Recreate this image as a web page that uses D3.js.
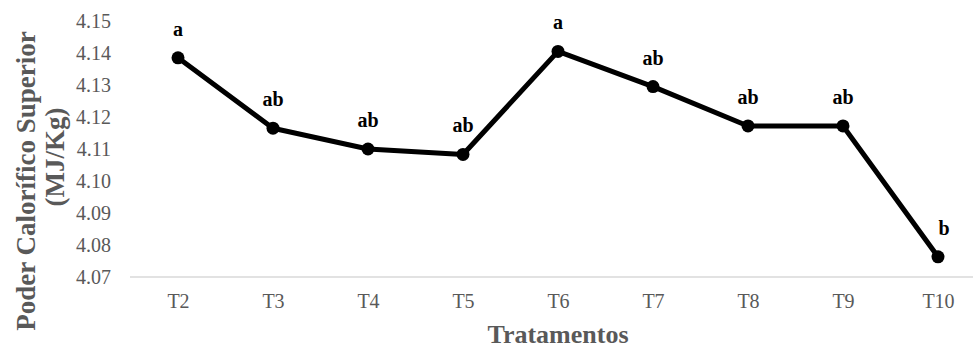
<!DOCTYPE html>
<html>
<head>
<meta charset="utf-8">
<script src="https://cdn.jsdelivr.net/npm/d3@7"></script>
<style>
  html, body { margin: 0; padding: 0; background: #fff; }
  svg { display: block; }
  svg text { font-family: "Liberation Serif", "Times New Roman", serif; }
</style>
</head>
<body>
<svg id="chart" width="973" height="349"></svg>
<script>
// Tratamentos and their mean higher heating value (MJ/Kg)
const categories = ["T2", "T3", "T4", "T5", "T6", "T7", "T8", "T9", "T10"];
const values = [4.1385, 4.1165, 4.1100, 4.1083, 4.1405, 4.1295, 4.1172, 4.1172, 4.0763];
// Letters from the mean comparison test
const letters = ["a", "ab", "ab", "ab", "a", "ab", "ab", "ab", "b"];
const yTicks = [4.07, 4.08, 4.09, 4.10, 4.11, 4.12, 4.13, 4.14, 4.15];

const svg = d3.select("#chart");
const font = "Liberation Serif, Times New Roman, serif";
const grey = "#595959";

const x = d3.scalePoint().domain(categories).range([130.5, 985.5]).padding(0.5);
const y = d3.scaleLinear().domain([4.07, 4.15]).range([277, 21]);

// Y axis labels (no line, no ticks)
const yAxis = svg.append("g")
  .attr("transform", "translate(130,0)")
  .call(d3.axisLeft(y).tickValues(yTicks).tickFormat(d3.format(".2f")).tickSize(0).tickPadding(19));
yAxis.attr("font-family", null);
yAxis.select(".domain").remove();
yAxis.selectAll("text").style("font-family", font).attr("font-size", 20).attr("fill", grey);

// X axis: light baseline with category labels
const xAxis = svg.append("g")
  .attr("transform", `translate(0,${y(4.07)})`)
  .call(d3.axisBottom(x).tickSize(0).tickPadding(17));
xAxis.attr("font-family", null);
xAxis.select(".domain").remove();
xAxis.append("line")
  .attr("x1", 130).attr("x2", 985)
  .attr("stroke", "#d9d9d9").attr("stroke-width", 1.5);
xAxis.selectAll("text").style("font-family", font).attr("font-size", 20).attr("fill", grey);

// Series line and markers
const line = d3.line().x((d, i) => x(categories[i])).y(d => y(d));
svg.append("path")
  .datum(values)
  .attr("d", line)
  .attr("fill", "none")
  .attr("stroke", "#000")
  .attr("stroke-width", 5)
  .attr("stroke-linejoin", "round");

svg.selectAll("circle.pt")
  .data(values)
  .join("circle")
  .attr("class", "pt")
  .attr("cx", (d, i) => x(categories[i]))
  .attr("cy", d => y(d))
  .attr("r", 6.5)
  .attr("fill", "#000");

// Significance letters above each point
svg.selectAll("text.lbl")
  .data(values)
  .join("text")
  .attr("class", "lbl")
  .attr("x", (d, i) => x(categories[i]) + (i === values.length - 1 ? 6 : 0))
  .attr("y", d => y(d) - 22)
  .attr("text-anchor", "middle")
  .attr("font-size", 20)
  .attr("font-weight", "bold")
  .attr("fill", "#000")
  .text((d, i) => letters[i]);

// Axis titles
svg.append("text")
  .attr("transform", "translate(35,181) rotate(-90)")
  .attr("text-anchor", "middle")
  .attr("font-size", 27)
  .attr("font-weight", "bold")
  .attr("fill", grey)
  .text("Poder  Calorífico Superior");
svg.append("text")
  .attr("transform", "translate(64,157) rotate(-90)")
  .attr("text-anchor", "middle")
  .attr("font-size", 27)
  .attr("font-weight", "bold")
  .attr("fill", grey)
  .text("(MJ/Kg)");
svg.append("text")
  .attr("x", 558)
  .attr("y", 343)
  .attr("text-anchor", "middle")
  .attr("font-size", 26)
  .attr("font-weight", "bold")
  .attr("fill", grey)
  .text("Tratamentos");
</script>
</body>
</html>
